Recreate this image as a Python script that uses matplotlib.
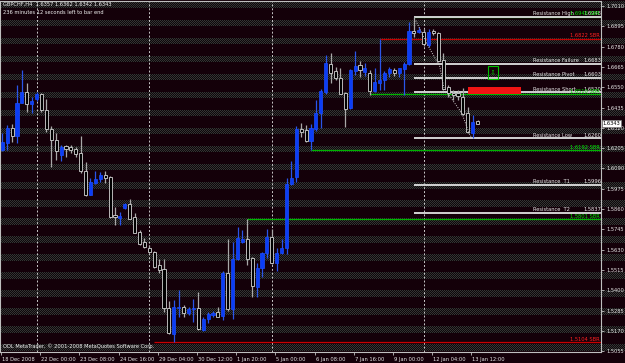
import matplotlib
matplotlib.use("Agg")
import matplotlib.pyplot as plt
import matplotlib.transforms as mtransforms
from matplotlib.patches import Rectangle
import numpy as np

W, H, DPI = 625, 363, 100

# ---------------- data ----------------
symbol_line = "GBPCHF,H4  1.6357 1.6362 1.6342 1.6343"
timer_line = "236 minutes 12 seconds left to bar end"
copyright_line = "ODL MetaTrader, \u00a9 2001-2008 MetaQuotes Software Corp."

opens = [1.6194, 1.6236, 1.6317, 1.6274, 1.6462, 1.6521, 1.6453, 1.6481, 1.6510, 1.6421,
         1.6312, 1.6251, 1.6166, 1.6217, 1.6210, 1.6198, 1.6176, 1.6078, 1.5939, 1.6006,
         1.6030, 1.6053, 1.6040, 1.5826, 1.5807, 1.5864, 1.5887, 1.5813, 1.5731, 1.5671,
         1.5637, 1.5618, 1.5543, 1.5520, 1.5297, 1.5152, 1.5297, 1.5303, 1.5272, 1.5292,
         1.5297, 1.5175, 1.5235, 1.5260, 1.5275, 1.5254, 1.5496, 1.5292, 1.5575, 1.5675,
         1.5690, 1.5581, 1.5420, 1.5527, 1.5609, 1.5703, 1.5556, 1.5612, 1.5637, 1.6000,
         1.6040, 1.6312, 1.6308, 1.6247, 1.6312, 1.6402, 1.6525, 1.6681, 1.6642, 1.6604,
         1.6515, 1.6430, 1.6643, 1.6676, 1.6638, 1.6632, 1.6530, 1.6576, 1.6591, 1.6629,
         1.6647, 1.6629, 1.6653, 1.6680, 1.6870, 1.6861, 1.6864, 1.6789, 1.6870, 1.6855,
         1.6704, 1.6549, 1.6519, 1.6515, 1.6493, 1.6402, 1.6292, 1.6357]
highs = [1.6291, 1.6336, 1.6340, 1.6562, 1.6647, 1.6572, 1.6492, 1.6523, 1.6515, 1.6481,
         1.6330, 1.6293, 1.6223, 1.6225, 1.6223, 1.6214, 1.6276, 1.6125, 1.6038, 1.6075,
         1.6067, 1.6075, 1.6047, 1.5873, 1.5845, 1.5892, 1.5915, 1.5839, 1.5741, 1.5694,
         1.5656, 1.5624, 1.5575, 1.5575, 1.5340, 1.5344, 1.5401, 1.5316, 1.5303, 1.5348,
         1.5391, 1.5246, 1.5278, 1.5284, 1.5303, 1.5510, 1.5690, 1.5675, 1.5760, 1.5741,
         1.5801, 1.5590, 1.5552, 1.5618, 1.5745, 1.5745, 1.5637, 1.5688, 1.6034, 1.6134,
         1.6330, 1.6346, 1.6336, 1.6342, 1.6478, 1.6538, 1.6732, 1.6745, 1.6666, 1.6657,
         1.6525, 1.6651, 1.6755, 1.6698, 1.6685, 1.6647, 1.6657, 1.6822, 1.6643, 1.6666,
         1.6657, 1.6660, 1.6694, 1.6921, 1.6948, 1.6893, 1.6878, 1.6878, 1.6878, 1.6864,
         1.6742, 1.6562, 1.6534, 1.6534, 1.6544, 1.6440, 1.6393, 1.6362]
lows = [1.6189, 1.6194, 1.6241, 1.6234, 1.6460, 1.6410, 1.6402, 1.6469, 1.6410, 1.6298,
        1.6096, 1.6135, 1.6132, 1.6155, 1.6176, 1.6155, 1.6062, 1.5934, 1.5937, 1.6002,
        1.6015, 1.6006, 1.5807, 1.5769, 1.5769, 1.5860, 1.5802, 1.5722, 1.5656, 1.5637,
        1.5609, 1.5524, 1.5496, 1.5278, 1.5152, 1.5104, 1.5250, 1.5246, 1.5260, 1.5222,
        1.5175, 1.5171, 1.5213, 1.5250, 1.5246, 1.5231, 1.5284, 1.5235, 1.5571, 1.5666,
        1.5543, 1.5360, 1.5363, 1.5476, 1.5581, 1.5548, 1.5510, 1.5605, 1.5605, 1.5998,
        1.6015, 1.6270, 1.6241, 1.6192, 1.6304, 1.6319, 1.6511, 1.6576, 1.6591, 1.6509,
        1.6326, 1.6425, 1.6619, 1.6606, 1.6613, 1.6506, 1.6525, 1.6534, 1.6534, 1.6609,
        1.6613, 1.6606, 1.6506, 1.6676, 1.6833, 1.6855, 1.6783, 1.6779, 1.6846, 1.6694,
        1.6534, 1.6496, 1.6478, 1.6478, 1.6393, 1.6289, 1.6260, 1.6342]
closes = [1.6241, 1.6317, 1.6274, 1.6463, 1.6523, 1.6453, 1.6474, 1.6511, 1.6421, 1.6312,
          1.6251, 1.6190, 1.6214, 1.6200, 1.6194, 1.6174, 1.6078, 1.5939, 1.6013, 1.6030,
          1.6053, 1.6037, 1.5816, 1.5813, 1.5822, 1.5887, 1.5803, 1.5726, 1.5660, 1.5646,
          1.5618, 1.5533, 1.5514, 1.5297, 1.5156, 1.5303, 1.5307, 1.5269, 1.5294, 1.5301,
          1.5179, 1.5235, 1.5265, 1.5272, 1.5250, 1.5496, 1.5292, 1.5575, 1.5694, 1.5688,
          1.5575, 1.5424, 1.5524, 1.5612, 1.5700, 1.5552, 1.5612, 1.5637, 1.6000, 1.6037,
          1.6312, 1.6298, 1.6247, 1.6317, 1.6402, 1.6530, 1.6685, 1.6632, 1.6600, 1.6511,
          1.6427, 1.6647, 1.6672, 1.6647, 1.6657, 1.6530, 1.6581, 1.6591, 1.6629, 1.6653,
          1.6632, 1.6657, 1.6680, 1.6870, 1.6859, 1.6874, 1.6795, 1.6864, 1.6855, 1.6700,
          1.6538, 1.6519, 1.6506, 1.6500, 1.6398, 1.6298, 1.6355, 1.6343]

xtick_bars = [0, 8, 16, 24, 32, 40, 48, 56, 64, 72, 80, 88, 96]
xtick_labels = ["18 Dec 2008", "22 Dec 00:00", "23 Dec 08:00", "24 Dec 16:00", "29 Dec 04:00",
                "30 Dec 12:00", "1 Jan 20:00", "5 Jan 00:00", "6 Jan 08:00", "7 Jan 16:00",
                "9 Jan 00:00", "12 Jan 04:00", "13 Jan 12:00"]
week_separators = [7, 30, 55, 86]
ytick_values = [1.7010, 1.6895, 1.6780, 1.6665, 1.6550, 1.6435, 1.6320, 1.6205, 1.6090,
                1.5975, 1.5860, 1.5745, 1.5630, 1.5515, 1.5400, 1.5285, 1.5170, 1.5055]
current_price = 1.6343

res_names = ["Resistance High", "Resistance Failure", "Resistance Pivot", "Resistance Short",
             "Resistance Low", "Resistance  T1", "Resistance  T2"]
res_levels = [1.6948, 1.6683, 1.6603, 1.6520, 1.6260, 1.5996, 1.5837]
res_start_bar = 84

sbr_levels = [1.6948, 1.6822, 1.6510, 1.6192, 1.5801, 1.5104]
sbr_start_bars = [84, 77, 75, 63, 50, 31]
sbr_kinds = ["sup", "res", "sup", "sup", "sup", "res"]

zigzag_bars = [84.4, 86.6, 89.3, 90.1, 91.4, 93.8, 95.4, 96]
zigzag_prices = [1.6927, 1.6799, 1.6666, 1.6549, 1.6496, 1.6402, 1.6279, 1.6260]

signal_box_bars = [99.1, 101.2]
signal_box_prices = [1.6596, 1.6670]
zone_bars = [95.0, 105.9]
zone_prices = [1.6514, 1.6551]

# ---------------- figure ----------------
fig = plt.figure(figsize=(W / DPI, H / DPI), dpi=DPI)
fig.patch.set_facecolor('#14000a')

# background stripes (MetaTrader style texture)
bg = np.zeros((H, W, 3))
bg[:] = np.array([20, 0, 9]) / 255
yy, xx = np.mgrid[0:H, 0:W]
inband = (((yy - 1.0) % 18.05) < 6.5) & (yy < 352)
checker = ((yy + xx) % 2 == 0)
bg[inband & checker] = np.array([52, 52, 52]) / 255
bg[inband & ~checker] = np.array([14, 8, 10]) / 255
fig.figimage(bg, xo=0, yo=0, origin='upper', zorder=-5)

PX = 4.9      # pixels per bar
X0 = 2.3      # pixel of bar 0
PP = 0.0005665  # price per pixel
top_px, bot_px, right_px = 1, 352, 601
ax = fig.add_axes([0, (H - bot_px) / H, right_px / W, (bot_px - top_px) / H])
ax.set_zorder(2)
ax.set_facecolor('none')
ax.patch.set_alpha(0)
xmin = -X0 / PX
xmax = (right_px - X0) / PX
ax.set_xlim(xmin, xmax)
pmax = 1.7010 + (6 - top_px) * PP
pmin = 1.7010 - (bot_px - 6) * PP
ax.set_ylim(pmin, pmax)

for s in ax.spines.values():
    s.set_color('#bfbfbf')
    s.set_linewidth(0.8)

fs = 3.7
ax.yaxis.tick_right()
ax.set_yticks(ytick_values)
ax.set_yticklabels([f"{v:.4f}" for v in ytick_values])
ax.tick_params(axis='y', colors='#bfbfbf', labelcolor='#e6e6e6', labelsize=fs,
               length=2.5, width=0.6, pad=1.5)
ax.set_xticks([b - 0.25 for b in xtick_bars])
ax.set_xticklabels(xtick_labels, ha='left')
ax.tick_params(axis='x', colors='#bfbfbf', labelcolor='#e6e6e6', labelsize=fs,
               length=2.5, width=0.6, pad=1.0)
offset = mtransforms.ScaledTranslation(1.0 / DPI, 0, fig.dpi_scale_trans)
for lab in ax.get_xticklabels():
    lab.set_transform(lab.get_transform() + offset)

# week separators
for b in week_separators:
    ax.axvline(b, color='#c8c8c8', lw=0.7, dashes=(2, 2), zorder=1)

# candles
o = np.array(opens); h = np.array(highs); l = np.array(lows); c = np.array(closes)
idx = np.arange(len(o))
up = c > o
dn = ~up
ax.vlines(idx[up], l[up], h[up], color='#2a55e8', lw=0.9, zorder=3)
ax.vlines(idx[dn], l[dn], h[dn], color='#a8a8a8', lw=0.9, zorder=3)
bottoms = np.minimum(o, c)
heights = np.maximum(np.abs(c - o), 0.0005)
ax.bar(idx[up], heights[up], bottom=bottoms[up], width=0.62, color='#0b3df5',
       edgecolor='#1b4dff', lw=0.5, zorder=4)
ax.bar(idx[dn], heights[dn], bottom=bottoms[dn], width=0.62, color='#000000',
       edgecolor='#d4d4d4', lw=0.6, zorder=4)

# zigzag dotted line
ax.plot(zigzag_bars, zigzag_prices, color='#d0d0d0', lw=0.7, dashes=(1, 1.5), zorder=5)

# SBR lines
trans = mtransforms.blended_transform_factory(fig.transFigure, ax.transData)
sbr_color = {"sup": '#00b400', "res": '#c80000'}
for lvl, sb, kind in zip(sbr_levels, sbr_start_bars, sbr_kinds):
    ax.hlines(lvl, sb, xmax, color=sbr_color[kind], lw=0.9, zorder=2)

# resistance lines and labels
for name, lvl in zip(res_names, res_levels):
    ax.hlines(lvl, res_start_bar, xmax, color='#d2d2d2', lw=1.4, zorder=2)
    ax.text(533 / W, lvl + 3.2 * PP, name, transform=trans, color='#e8e8e8',
            fontsize=fs, va='center', ha='left', zorder=6)
    ax.text(583 / W, lvl + 3.2 * PP, f"{lvl:.4f}", transform=trans, color='#e8e8e8',
            fontsize=fs, va='center', ha='left', zorder=6)

for lvl, kind in zip(sbr_levels, sbr_kinds):
    col = '#00e000' if kind == "sup" else '#ff2020'
    ax.text(600 / W, lvl + 3.2 * PP, f"{lvl:.4f} SBR", transform=trans, color=col,
            fontsize=fs, va='center', ha='right', zorder=7)

# signal box with arrow
ax.add_patch(Rectangle((signal_box_bars[0], signal_box_prices[0]),
                       signal_box_bars[1] - signal_box_bars[0],
                       signal_box_prices[1] - signal_box_prices[0],
                       fill=False, edgecolor='#00c000', lw=0.8, zorder=6))
ax.text(np.mean(signal_box_bars), np.mean(signal_box_prices), "\u21e9", color='#00d000',
        fontsize=5, ha='center', va='center', zorder=6)

# red zone
ax.add_patch(Rectangle((zone_bars[0], zone_prices[0]), zone_bars[1] - zone_bars[0],
                       zone_prices[1] - zone_prices[0], facecolor='#f21414',
                       edgecolor='none', zorder=5))

# current price marker
ax.text(602.5 / W, current_price, f"{current_price:.4f}", transform=trans, color='black',
        fontsize=fs, va='center', ha='left', zorder=8,
        bbox=dict(boxstyle='square,pad=0.15', facecolor='white', edgecolor='#808080', lw=0.5),
        clip_on=False)

# header and footer
fig.text(3 / W, 1 - 4.5 / H, symbol_line, color='#f0f0f0', fontsize=fs, va='center', ha='left')
fig.text(3 / W, 1 - 12.5 / H, timer_line, color='#f0f0f0', fontsize=fs, va='center', ha='left')
fig.text(3 / W, 1 - 346 / H, copyright_line, color='#f0f0f0', fontsize=fs, va='center', ha='left')

fig.savefig("out.png", dpi=DPI, facecolor=fig.get_facecolor())
